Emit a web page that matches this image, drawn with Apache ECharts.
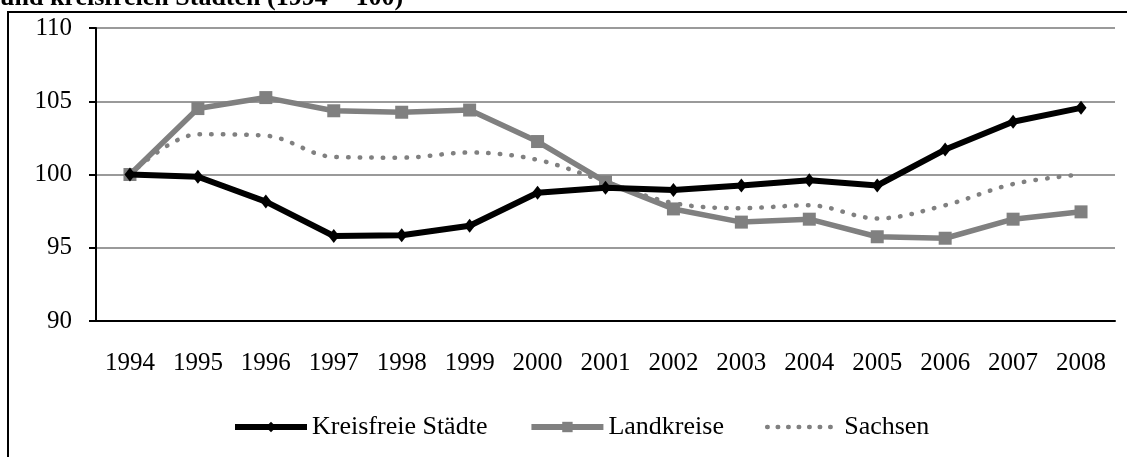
<!DOCTYPE html>
<html>
<head>
<meta charset="utf-8">
<script src="https://cdn.jsdelivr.net/npm/echarts@6/dist/echarts.min.js"></script>
<style>
html, body { margin: 0; padding: 0; background: #fff; }
#main { width: 1127px; height: 457px; }
</style>
</head>
<body>
<div id="main"></div>
<script>
var myChart = echarts.init(document.getElementById('main'));

var years = ['1994', '1995', '1996', '1997', '1998', '1999', '2000', '2001',
    '2002', '2003', '2004', '2005', '2006', '2007', '2008'];
// Index 1994 = 100
var kreisfreieStaedte = [100, 99.85, 98.15, 95.8, 95.85, 96.5, 98.75, 99.1,
    98.95, 99.25, 99.6, 99.25, 101.7, 103.6, 104.55];
var landkreise = [100, 104.5, 105.25, 104.35, 104.25, 104.4, 102.25, 99.5,
    97.65, 96.75, 96.95, 95.75, 95.65, 96.95, 97.45];
var sachsen = [100, 102.75, 102.65, 101.2, 101.15, 101.5, 101.0, 99.5,
    98.05, 97.7, 97.9, 97.0, 97.9, 99.35, 100.0];

var fontFamily = '"Liberation Serif", "Times New Roman", serif';

option = {
    backgroundColor: '#ffffff',
    animation: false,
    textStyle: {
        fontFamily: fontFamily
    },
    title: {
        text: 'und kreisfreien Städten (1994 = 100)',
        left: -5,
        top: -20,
        textStyle: {
            fontFamily: fontFamily,
            fontWeight: 'bold',
            fontSize: 26,
            color: '#000'
        }
    },
    graphic: [{
        type: 'rect',
        shape: { x: 8, y: 12, width: 1160, height: 480 },
        style: { fill: 'none', stroke: '#000', lineWidth: 2 },
        z: 0
    }],
    legend: {
        left: 227,
        top: 409,
        itemWidth: 72,
        itemHeight: 13,
        itemGap: 41,
        textStyle: {
            fontFamily: fontFamily,
            fontSize: 26,
            color: '#000'
        },
        data: [
            { name: 'Kreisfreie Städte', lineStyle: { width: 6 } },
            { name: 'Landkreise', lineStyle: { width: 6 } },
            {
                name: 'Sachsen',
                itemStyle: { opacity: 0 },
                lineStyle: { width: 4.5, type: [0.5, 10], cap: 'round' }
            }
        ]
    },
    grid: {
        left: 96,
        right: 12,
        top: 28,
        bottom: 136
    },
    xAxis: {
        type: 'category',
        data: years,
        boundaryGap: true,
        axisLine: { lineStyle: { color: '#000', width: 2 } },
        axisTick: { alignWithLabel: true, length: 6, lineStyle: { color: '#000', width: 2 } },
        axisLabel: { color: '#000', fontSize: 25, margin: 30, fontFamily: fontFamily }
    },
    yAxis: {
        type: 'value',
        min: 90,
        max: 110,
        interval: 5,
        axisLine: { show: true, lineStyle: { color: '#000', width: 2 } },
        axisTick: { show: true, length: 7, lineStyle: { color: '#000', width: 2 } },
        axisLabel: { color: '#000', fontSize: 25, margin: 24, fontFamily: fontFamily },
        splitLine: { lineStyle: { color: '#9a9a9a', width: 2 } }
    },
    series: [{
        name: 'Kreisfreie Städte',
        type: 'line',
        data: kreisfreieStaedte,
        symbol: 'diamond',
        symbolSize: [11, 14],
        itemStyle: { color: '#000' },
        lineStyle: { color: '#000', width: 6 },
        z: 4
    }, {
        name: 'Landkreise',
        type: 'line',
        data: landkreise,
        symbol: 'rect',
        symbolSize: 13,
        itemStyle: { color: '#808080' },
        lineStyle: { color: '#808080', width: 5.5 },
        z: 3
    }, {
        name: 'Sachsen',
        type: 'line',
        data: sachsen,
        smooth: 0.35,
        symbol: 'none',
        itemStyle: { color: '#808080' },
        lineStyle: { color: '#808080', width: 4.5, type: [0.5, 11.2], cap: 'round' },
        z: 2
    }]
};

myChart.setOption(option);
</script>
</body>
</html>
